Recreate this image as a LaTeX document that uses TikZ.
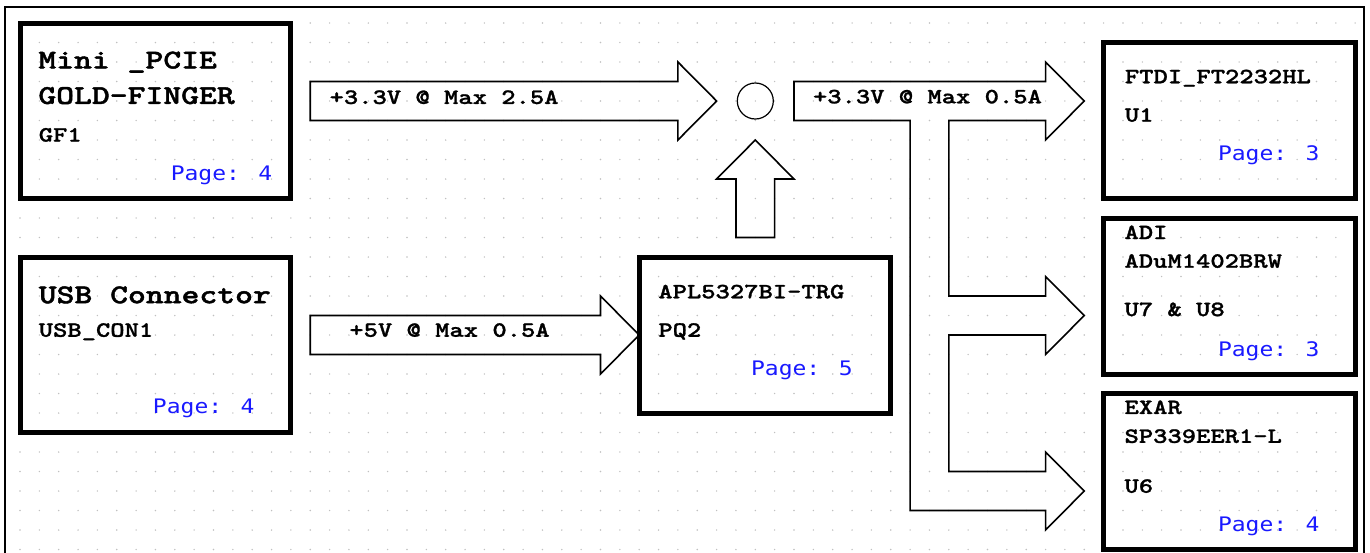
\documentclass[tikz,border=0pt]{standalone}
\usepackage{fontspec}
\newfontfamily\courbold[FakeStretch=1.25, FakeBold=1.2]{lmmonolt10-bold.otf}
\newfontfamily\courtitle[FakeStretch=1.25, FakeBold=1.6]{lmmonolt10-bold.otf}
\newfontfamily\pagefont[FakeStretch=1.15]{DejaVu Sans Mono}
\usetikzlibrary{fit}
\definecolor{griddot}{RGB}{192,192,192}
\definecolor{pageblue}{RGB}{25,25,255}
\tikzset{
  box/.style = {draw, line width=2.5pt, inner sep=0pt, outer sep=0pt},
  barrow/.style = {draw, line width=0.8pt, line join=miter},
  lbl/.style = {anchor=base west, inner sep=0pt, font=\courbold\fontsize{10.9}{13}\selectfont},
  title/.style = {anchor=base west, inner sep=0pt, font=\courtitle\fontsize{13.6}{16}\selectfont},
  pagelbl/.style = {anchor=base east, inner sep=0pt, text=pageblue, font=\pagefont\fontsize{10}{12}\selectfont}
}
\begin{document}
\begin{tikzpicture}[x=9.675pt, y=-9.75pt]
\useasboundingbox (-1.0336,-0.1795) rectangle (69.767,28.128);
\foreach \i in {0,...,69}
  \foreach \j in {1,...,28}
    \fill[griddot] (\i,\j) circle (0.4pt);
\draw[line width=1.1pt] (-0.775,29) -- (-0.775,0.18) -- (69.457,0.18) -- (69.457,29);

\node[box, fit={(0,1) (14,10)}] (gf) {};
\node[box, fit={(0,13) (14,22)}] (usb) {};
\node[box, fit={(32,13) (45,21)}] (pq) {};
\node[box, fit={(56,2) (69,10)}] (ftdi) {};
\node[box, fit={(56,11) (69,19)}] (adi) {};
\node[box, fit={(56,20) (69,28)}] (exar) {};
\node[draw, circle, line width=0.6pt, minimum size=18pt, inner sep=0pt] (junc) at (38,5) {};

\draw[barrow] (15,4) -- (34,4) -- (34,3) -- (36,5) -- (34,7) -- (34,6) -- (15,6) -- cycle;
\draw[barrow] (37,12) -- (37,9) -- (36,9) -- (38,7) -- (40,9) -- (39,9) -- (39,12) -- cycle;
\draw[barrow] (15,16) -- (30,16) -- (30,15) -- (pq.west) -- (30,19) -- (30,18) -- (15,18) -- cycle;
\draw[barrow] (40,4) -- (53,4) -- (53,3) -- (55,5) -- (53,7) -- (53,6) -- (48,6)
  -- (48,15) -- (53,15) -- (53,14) -- (55,16) -- (53,18) -- (53,17) -- (48,17)
  -- (48,24) -- (53,24) -- (53,23) -- (55,25) -- (53,27) -- (53,26) -- (46,26)
  -- (46,6) -- (40,6) -- cycle;

\node[lbl] (vin) at (15.98,5.15) {+3.3V @ Max 2.5A};
\node[lbl] (vout) at (40.96,5.12) {+3.3V @ Max 0.5A};
\node[lbl] (vusb) at (17.0,17.09) {+5V @ Max 0.5A};

\node[title] (gfname) at (0.93,3.33) {Mini \_PCIE};
\node[title] (gfname2) at (0.93,5.15) {GOLD-FINGER};
\node[lbl] (gfref) at (0.95,7.08) {GF1};
\node[pagelbl] (gfpage) at (13.06,9.1) {Page: 4};

\node[title] (usbname) at (0.95,15.37) {USB Connector};
\node[lbl] (usbref) at (0.95,17.09) {USB\_CON1};
\node[pagelbl] (usbpage) at (12.14,21.05) {Page: 4};

\node[lbl] (pqname) at (32.97,15.12) {APL5327BI-TRG};
\node[lbl] (pqref) at (32.97,17.09) {PQ2};
\node[pagelbl] (pqpage) at (43.05,19.07) {Page: 5};

\node[lbl] (ftdiname) at (57.08,4.09) {FTDI\_FT2232HL};
\node[lbl] (ftdiref) at (57.08,6.06) {U1};
\node[pagelbl] (ftdipage) at (67.18,8.06) {Page: 3};

\node[lbl] (adiname) at (57.06,12.08) {ADI};
\node[lbl] (adiname2) at (57.06,13.55) {ADuM1402BRW};
\node[lbl] (adiref) at (57.06,16.03) {U7 \& U8};
\node[pagelbl] (adipage) at (67.18,18.08) {Page: 3};

\node[lbl] (exarname) at (57.06,21.05) {EXAR};
\node[lbl] (exarname2) at (57.06,22.53) {SP339EER1-L};
\node[lbl] (exarref) at (57.06,25.09) {U6};
\node[pagelbl] (exarpage) at (67.18,27.09) {Page: 4};
\end{tikzpicture}
\end{document}
